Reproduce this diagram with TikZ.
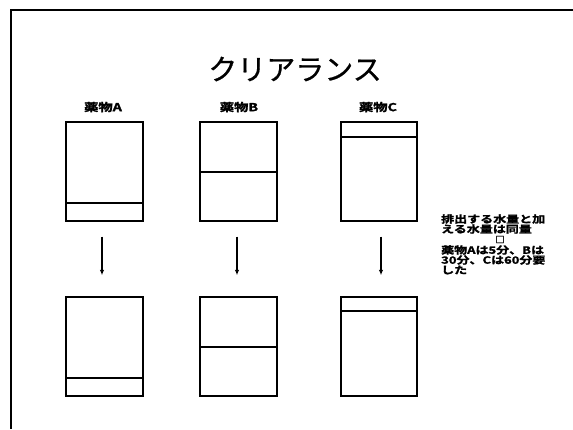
\documentclass[tikz,border=0pt]{standalone}
\usepackage{fontspec}
\usetikzlibrary{arrows.meta}
\newfontfamily\jp{Noto Sans CJK JP}[FakeBold=0.6]
\newfontfamily\jpb{Noto Sans CJK JP Bold}[FakeBold=1.6]
\tikzset{
  frameline/.style={line width=2pt},
  vessel/.style={draw, line width=1.4pt},
  level/.style={line width=1.2pt},
  flow/.style={line width=1.2pt, -{Latex[length=5.5pt,width=4.5pt]}},
  drug/.style={font=\jpb\fontsize{11}{11}\selectfont, inner sep=0pt},
  side/.style={font=\jpb\fontsize{10}{10}\selectfont, inner sep=0pt, anchor=west},
  heading/.style={font=\jp\fontsize{29}{29}\selectfont, inner sep=0pt}
}
\begin{document}
\begin{tikzpicture}[x=1pt,y=-1pt]
\useasboundingbox (0,0) rectangle (573,429);
\fill[white] (0,0) rectangle (573,429);
% frame (top and left edges)
\coordinate (fTR) at (573,10);
\coordinate (fTL) at (11,10);
\coordinate (fBL) at (11,429);
\draw[frameline] (fTR) -- (fTL) -- (fBL);
% title
\node[heading] (title) at (295,69) {クリアランス};
% drug labels
\node[drug] (labA) at (103,107) {\scalebox{1.3}[1]{薬物A}};
\node[drug] (labB) at (239,107) {\scalebox{1.3}[1]{薬物B}};
\node[drug] (labC) at (378,107) {\scalebox{1.3}[1]{薬物C}};
% top vessels
\draw[vessel] (66,122) rectangle (143,221);
\draw[vessel] (200,122) rectangle (277,221);
\draw[vessel] (341,122) rectangle (417,221);
\draw[level] (66,203) -- (143,203);
\draw[level] (200,172) -- (277,172);
\draw[level] (341,137) -- (417,137);
\node[inner sep=0pt] (tA) at (102,236) {};
\node[inner sep=0pt] (tB) at (237,236) {};
\node[inner sep=0pt] (tC) at (381,236) {};
% bottom vessels
\draw[vessel] (66,297) rectangle (143,396);
\draw[vessel] (200,297) rectangle (277,396);
\draw[vessel] (341,297) rectangle (417,396);
\draw[level] (66,378) -- (143,378);
\draw[level] (200,347) -- (277,347);
\draw[level] (341,311) -- (417,311);
\node[inner sep=0pt] (bA) at (102,276) {};
\node[inner sep=0pt] (bB) at (237,276) {};
\node[inner sep=0pt] (bC) at (381,276) {};
% arrows
\draw[flow] (tA) -- (bA);
\draw[flow] (tB) -- (bB);
\draw[flow] (tC) -- (bC);
% side text
\node[side] (s1) at (441,219) {\scalebox{1.3}[1]{排出する水量と加}};
\node[side] (s2) at (441,229) {\scalebox{1.3}[1]{える水量は同量}};
\node[inner sep=0pt, font=\jpb\fontsize{9}{9}\selectfont] (s3) at (500,239.5) {□};
\node[side] (s4) at (441,250) {\scalebox{1.3}[1]{薬物Aは5分、Bは}};
\node[side] (s5) at (441,260) {\scalebox{1.3}[1]{30分、Cは60分要}};
\node[side] (s6) at (441,270) {\scalebox{1.3}[1]{した}};
\end{tikzpicture}
\end{document}
